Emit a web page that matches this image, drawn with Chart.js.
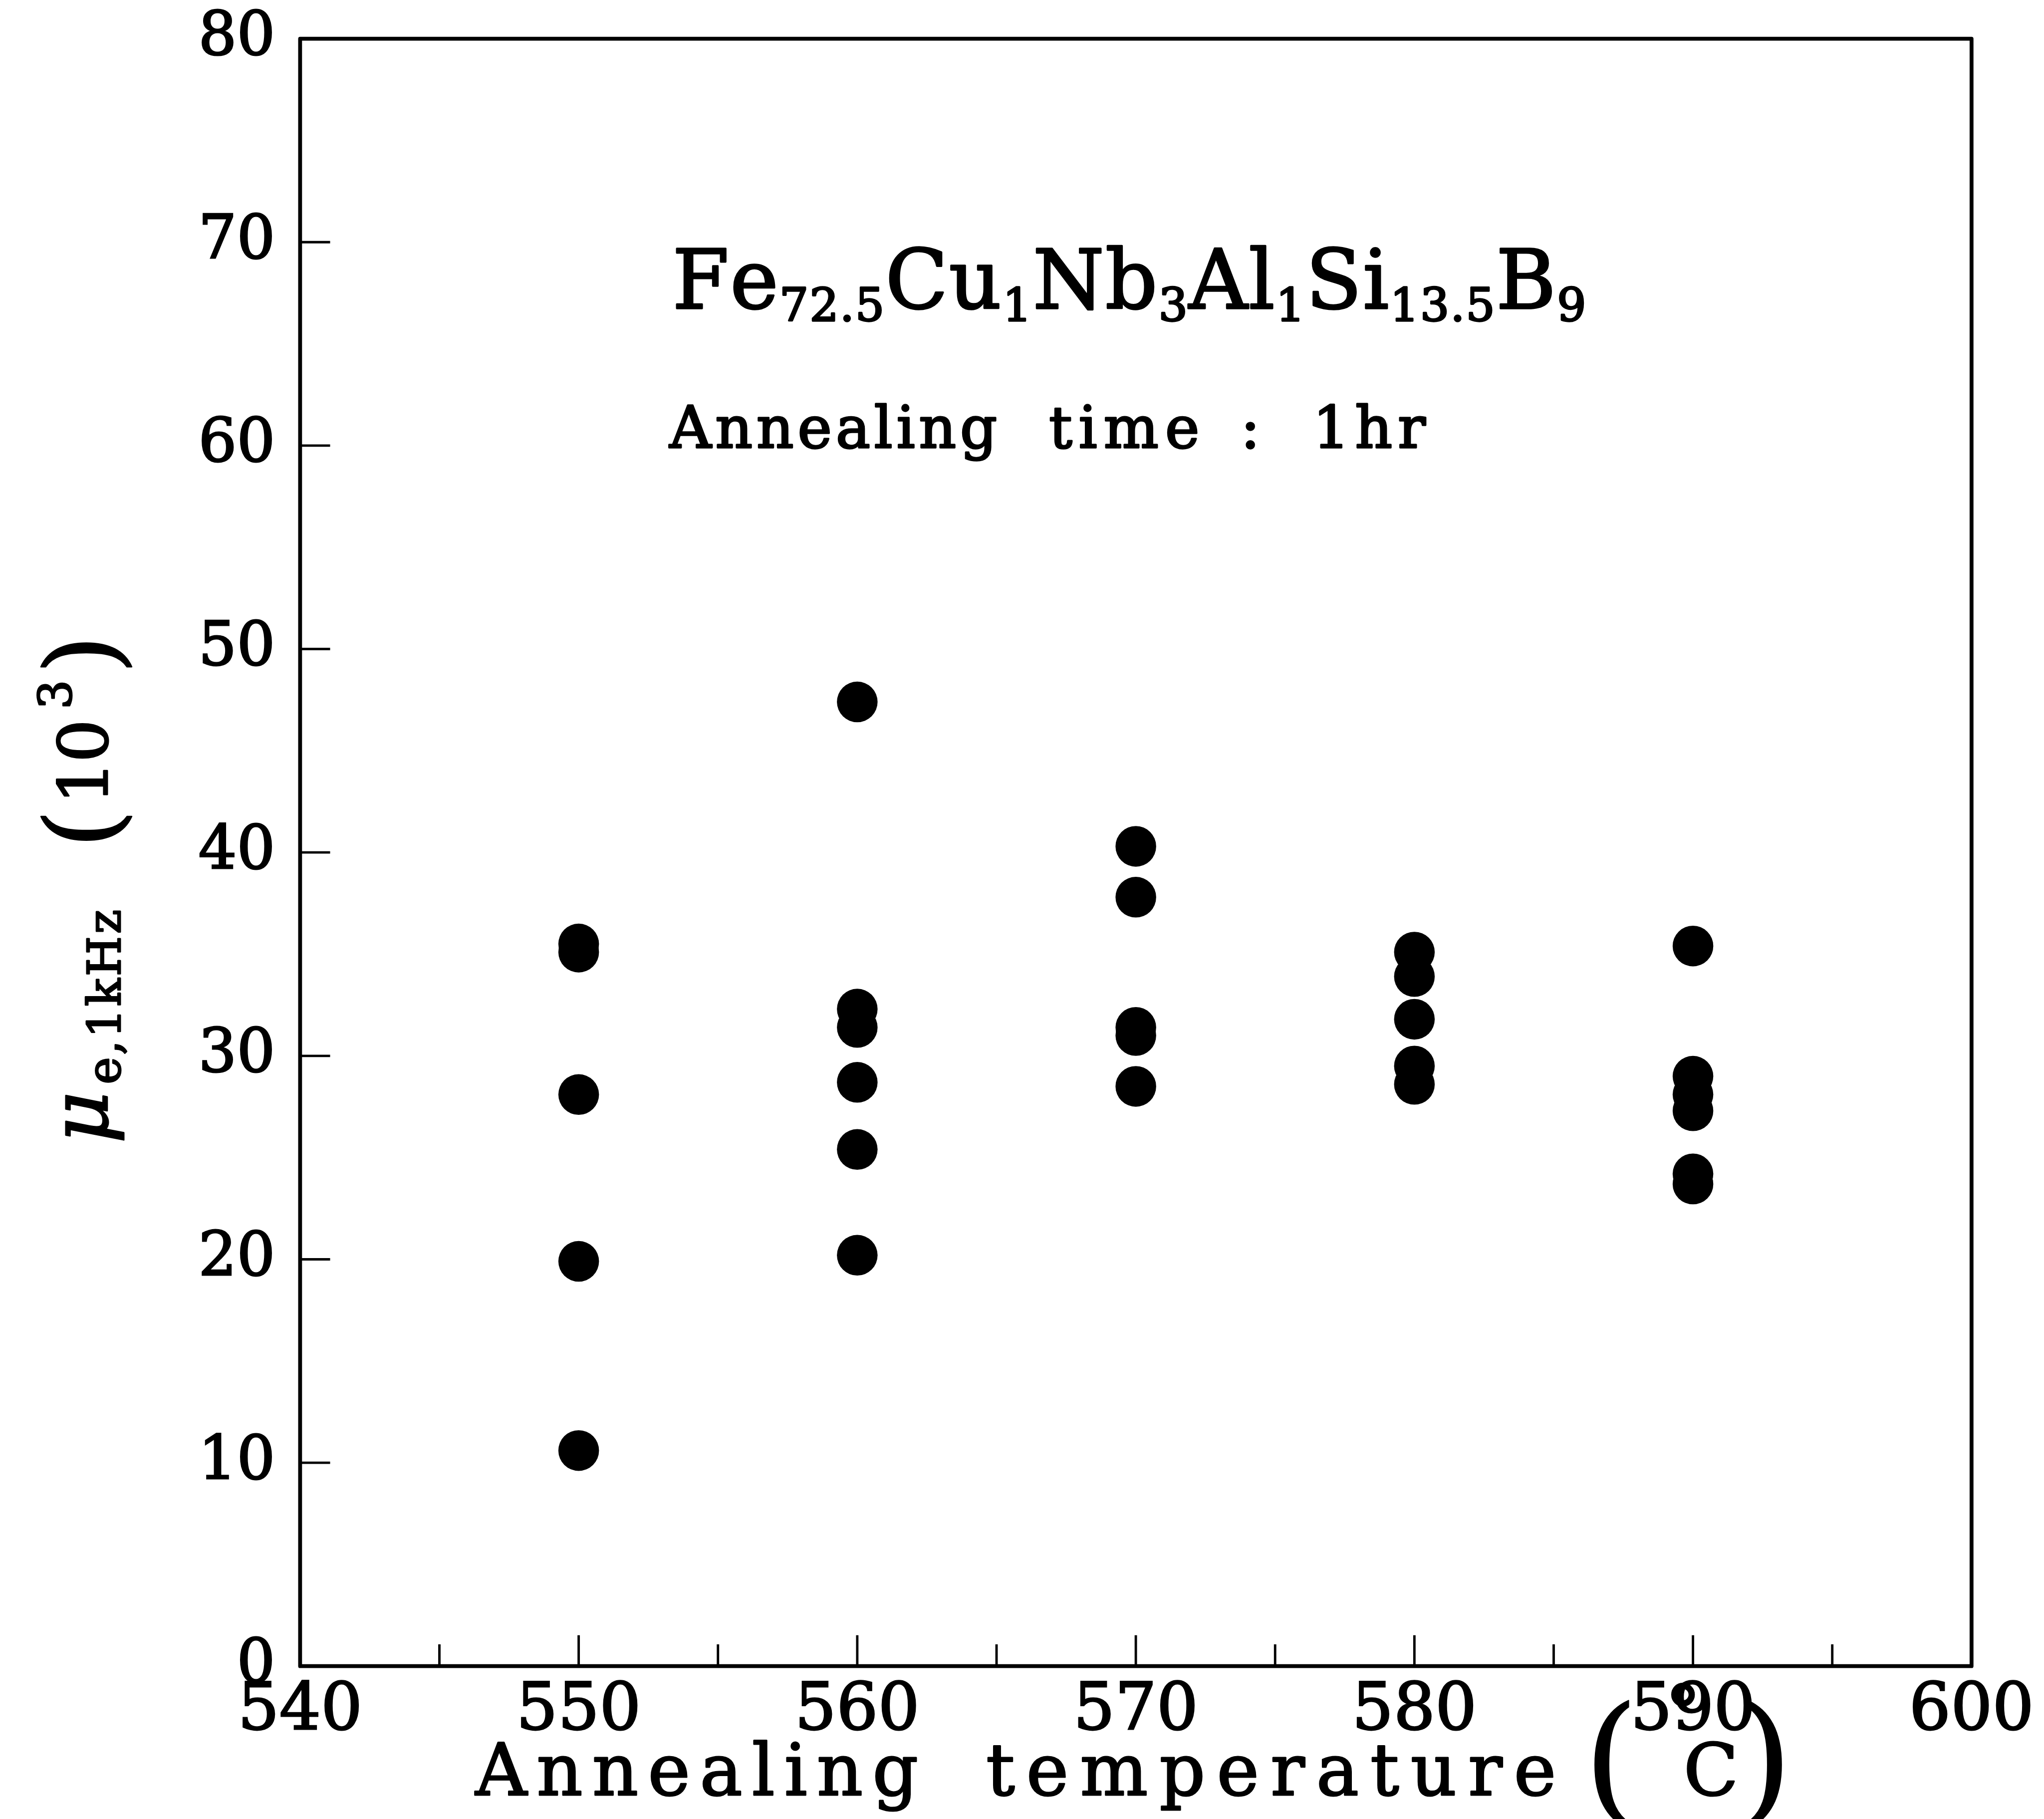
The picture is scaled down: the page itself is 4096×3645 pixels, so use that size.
<!DOCTYPE html>
<html><head><meta charset="utf-8">
<script src="https://cdn.jsdelivr.net/npm/chart.js@4.4.0/dist/chart.umd.min.js"></script>
<style>html,body{margin:0;padding:0;background:#fff;overflow:hidden}canvas{display:block}</style>
</head><body>
<canvas id="c" width="4096" height="3645"></canvas>
<script>
// ---- data ----
const temperatures = [550, 560, 570, 580, 590];
const mu550 = [35.5, 35.1, 28.1, 19.9, 10.6];
const mu560 = [47.4, 32.3, 31.4, 28.7, 25.4, 20.2];
const mu570 = [40.3, 37.8, 31.4, 31.0, 28.5];
const mu580 = [35.1, 33.9, 31.8, 29.5, 28.6];
const mu590 = [35.4, 29.0, 28.1, 27.3, 24.2, 23.7];
const xMajorTicks = [540, 550, 560, 570, 580, 590, 600];
const xMinorTicks = [545, 555, 565, 575, 585, 595];
const yTicks = [0, 10, 20, 30, 40, 50, 60, 70, 80];

const seriesByT = [mu550, mu560, mu570, mu580, mu590];
const points = [];
temperatures.forEach((t, i) => seriesByT[i].forEach(v => points.push({x: t, y: v})));

const S = 0.97;
const FONT = '"DejaVu Serif"';
const fontOf = p => (p.italic ? 'italic ' : '') + (p.size * S) + 'px ' + FONT;

// draw a run of pieces, evenly spread so that it spans x0..x1 (full-size px)
function drawFlow(ctx, pieces, x0, x1, base, stroke) {
  const items = [];
  pieces.forEach(p => {
    ctx.font = fontOf(p);
    [...p.t].forEach(c => items.push({c, w: ctx.measureText(c).width, font: ctx.font, dy: p.dy || 0}));
  });
  const nat = items.reduce((a, b) => a + b.w, 0);
  const sp = (x1 != null && items.length > 1) ? ((x1 - x0) * S - nat) / (items.length - 1) : 0;
  let x = x0 * S;
  ctx.lineWidth = stroke;
  items.forEach(it => {
    ctx.font = it.font;
    const y = (base + it.dy) * S;
    ctx.fillText(it.c, x, y);
    if (stroke > 0) ctx.strokeText(it.c, x, y);
    x += it.w + sp;
  });
}

const decor = {
  id: 'decor',
  afterDraw(chart) {
    const ctx = chart.ctx, ca = chart.chartArea, xs = chart.scales.x, ys = chart.scales.y;
    ctx.save();
    ctx.strokeStyle = '#000'; ctx.fillStyle = '#000';
    ctx.lineJoin = 'round';
    // frame
    ctx.lineWidth = 8 * S;
    ctx.strokeRect(ca.left, ca.top, ca.right - ca.left, ca.bottom - ca.top);
    // inward ticks
    ctx.lineWidth = 5 * S;
    ctx.beginPath();
    xMajorTicks.slice(1, -1).forEach(v => { const px = xs.getPixelForValue(v); ctx.moveTo(px, ca.bottom); ctx.lineTo(px, ca.bottom - 64 * S); });
    xMinorTicks.forEach(v => { const px = xs.getPixelForValue(v); ctx.moveTo(px, ca.bottom); ctx.lineTo(px, ca.bottom - 45 * S); });
    yTicks.slice(1, -1).forEach(v => { const py = ys.getPixelForValue(v); ctx.moveTo(ca.left, py); ctx.lineTo(ca.left + 62 * S, py); });
    ctx.stroke();

    ctx.textBaseline = 'alphabetic'; ctx.textAlign = 'left';
    // formula annotation
    const fm = 169, fs = 95, fd = 26;
    drawFlow(ctx, [
      {t: 'Fe', size: fm}, {t: '72.5', size: fs, dy: fd},
      {t: 'Cu', size: fm}, {t: '1', size: fs, dy: fd},
      {t: 'Nb', size: fm}, {t: '3', size: fs, dy: fd},
      {t: 'Al', size: fm}, {t: '1', size: fs, dy: fd},
      {t: 'Si', size: fm}, {t: '13.5', size: fs, dy: fd},
      {t: 'B', size: fm}, {t: '9', size: fs, dy: fd}
    ], 1389, 3277, 637, 3.5);

    // annealing time
    const ab = 925, as = 120;
    drawFlow(ctx, [{t: 'Annealing', size: as}], 1383, 2060, ab, 3.5);
    drawFlow(ctx, [{t: 'time', size: as}], 2167, 2478, ab, 3.5);
    drawFlow(ctx, [{t: ':', size: as}], 2563, null, ab, 3.5);
    drawFlow(ctx, [{t: '1hr', size: as}], 2712, 2945, ab, 3.5);

    // x axis title
    const xb = 3708, xsz = 148;
    drawFlow(ctx, [{t: 'Annealing', size: xsz}], 982, 1897, xb, 3);
    drawFlow(ctx, [{t: 'temperature', size: xsz}], 2037, 3215, xb, 3);
    drawFlow(ctx, [{t: '(', size: 290, dy: 25}], 3272, null, xb, 2);
    drawFlow(ctx, [{t: '\u00B0', size: xsz, dy: -120}], 3440, null, xb, 3);
    drawFlow(ctx, [{t: 'C', size: xsz}], 3478, null, xb, 3);
    drawFlow(ctx, [{t: ')', size: 290, dy: 25}], 3590, null, xb, 2);

    // y axis title (rotated, reads bottom to top)
    ctx.save();
    ctx.translate(222 * S, 2356 * S);
    ctx.rotate(-Math.PI / 2);
    const toU = yf => (2356 - yf);
    drawFlow(ctx, [{t: '\u03BC', size: 165, italic: true}], toU(2362), null, 0, 3);
    drawFlow(ctx, [{t: 'e,1kHz', size: 95}], toU(2240), toU(1879), 26, 3);
    drawFlow(ctx, [{t: '(', size: 205}], toU(1752), null, 18, 2.5);
    drawFlow(ctx, [{t: '10', size: 140}], toU(1661), toU(1486), 0, 3);
    drawFlow(ctx, [{t: '3', size: 95}], toU(1465), null, -75, 3);
    drawFlow(ctx, [{t: ')', size: 205}], toU(1392), null, 18, 2.5);
    ctx.restore();
    ctx.restore();
  }
};

new Chart(document.getElementById('c'), {
  type: 'scatter',
  data: {
    datasets: [{
      data: points,
      pointRadius: 42 * S,
      pointHoverRadius: 42 * S,
      pointStyle: 'circle',
      backgroundColor: '#000',
      borderColor: '#000',
      borderWidth: 0
    }]
  },
  options: {
    responsive: false,
    animation: false,
    devicePixelRatio: 1,
    events: [],
    layout: {padding: {top: 80 * S, right: 4096 - 4073 * S, left: 0, bottom: 0}},
    plugins: {legend: {display: false}, tooltip: {enabled: false}},
    scales: {
      x: {
        type: 'linear', min: 540, max: 600,
        grid: {display: false, drawTicks: false},
        border: {display: false},
        ticks: {
          stepSize: 10, autoSkip: false, maxRotation: 0, color: '#000',
          font: {family: 'DejaVu Serif', size: 131}, padding: 14,
          textStrokeColor: '#000', textStrokeWidth: 3
        },
        afterFit: s => { s.height = 3645 - 3442 * S; s.paddingLeft = 0; s.paddingRight = 0; s.paddingTop = 0; s.paddingBottom = 0; }
      },
      y: {
        type: 'linear', min: 0, max: 80,
        grid: {display: false, drawTicks: false},
        border: {display: false},
        ticks: {
          stepSize: 10, autoSkip: false, color: '#000',
          font: {family: 'DejaVu Serif', size: 121}, padding: 50,
          textStrokeColor: '#000', textStrokeWidth: 3
        },
        afterFit: s => { s.width = 620 * S; s.paddingTop = 0; s.paddingBottom = 0; s.paddingLeft = 0; s.paddingRight = 0; }
      }
    }
  },
  plugins: [decor]
});
</script>
</body></html>
